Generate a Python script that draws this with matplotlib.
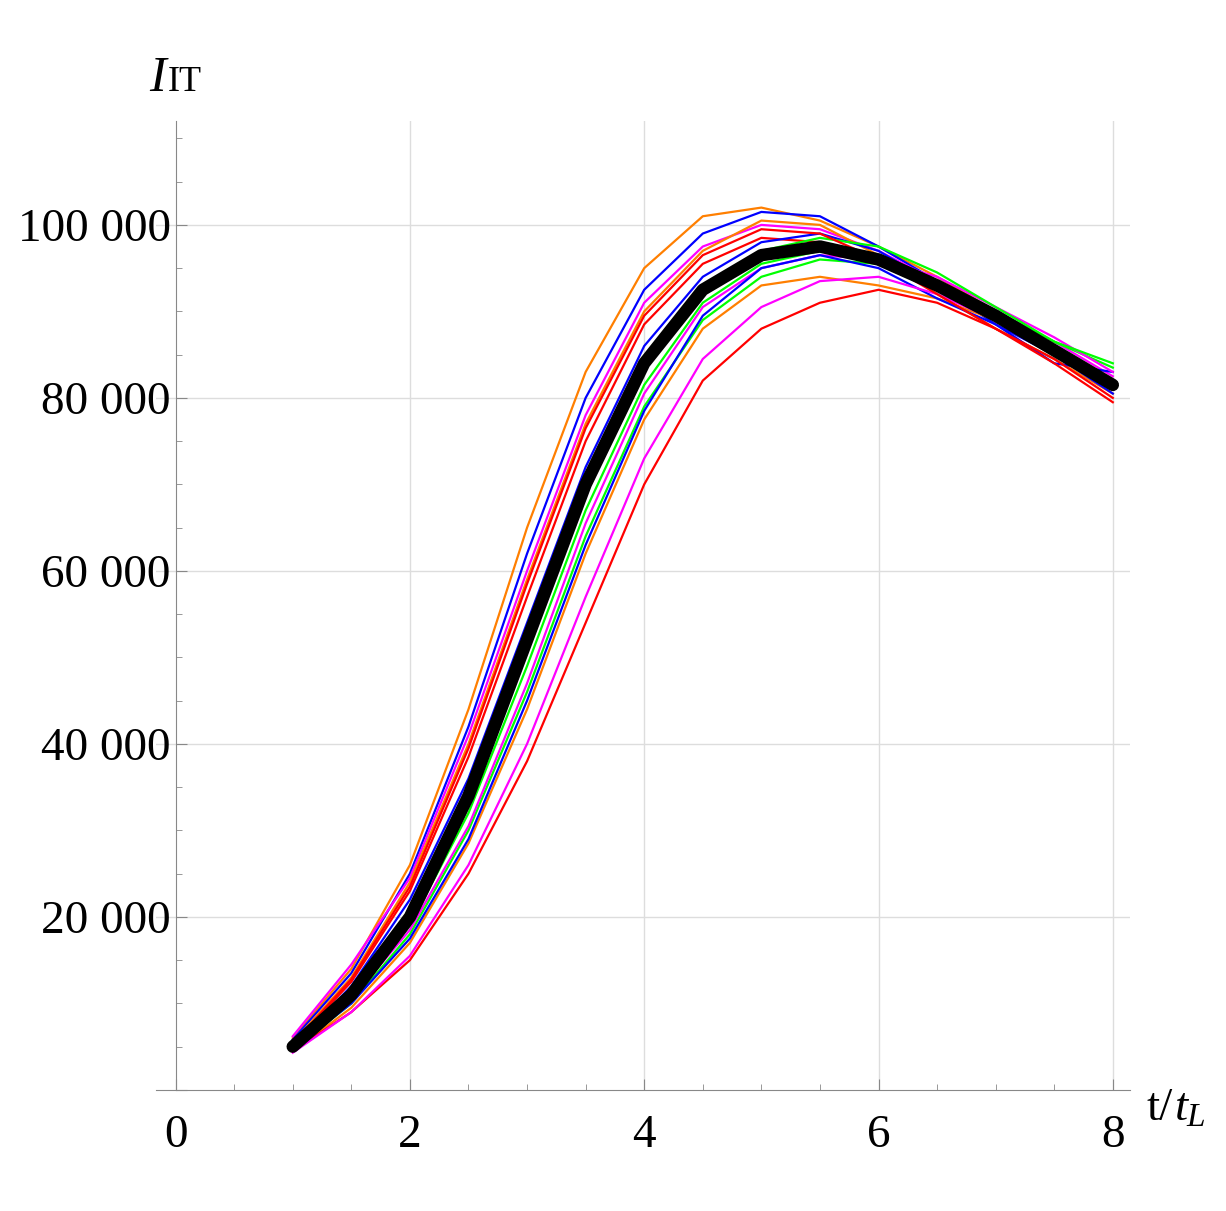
import matplotlib
matplotlib.use("Agg")
import matplotlib.pyplot as plt
from matplotlib.ticker import MultipleLocator, FuncFormatter

t = [1, 1.5, 2, 2.5, 3, 3.5, 4, 4.5, 5, 5.5, 6, 6.5, 7, 7.5, 8]
mean_curve = [5000, 11000, 20000, 34000, 52000, 70000, 84000, 92500, 96500, 97500, 96000, 93000, 89500, 85500, 81500]

orange1 = [6000, 14000, 26000, 44000, 65000, 83000, 95000, 101000, 102000, 100500, 97500, 94000, 90000, 86000, 82000]
blue1 = [5800, 13500, 25000, 42000, 62000, 80000, 92500, 99000, 101500, 101000, 97500, 93500, 89500, 85000, 81000]
magenta1 = [6200, 14500, 24500, 41000, 60000, 78000, 91000, 97500, 100000, 99500, 97000, 93500, 90000, 86500, 82500]
orange2 = [5500, 13000, 24000, 40000, 59000, 77000, 90000, 97000, 100500, 100000, 96500, 92000, 88000, 84500, 80500]
red1 = [5200, 12500, 23000, 38500, 57000, 75000, 88500, 95500, 98500, 98000, 95500, 92500, 89000, 85500, 81500]
blue2 = [5000, 12000, 22000, 36000, 54000, 72000, 86000, 94000, 98000, 99000, 97000, 93000, 88500, 84000, 83000]
green1 = [4800, 10500, 19000, 32000, 49000, 67000, 81500, 91000, 95500, 97000, 96500, 93500, 90000, 86500, 83500]
green2 = [4600, 10000, 18000, 30000, 46000, 64000, 79000, 89000, 94000, 96000, 95500, 93000, 89500, 86000, 82000]
magenta2 = [4500, 10500, 18500, 30500, 47000, 65500, 80500, 90500, 95000, 96500, 96000, 94000, 90500, 87000, 83000]
orange3 = [4400, 9500, 17000, 28500, 44000, 62000, 77500, 88000, 93000, 94000, 93000, 91500, 89000, 85500, 81000]
blue3 = [4700, 10000, 17500, 29000, 45000, 63000, 78500, 89500, 95000, 96500, 95000, 91500, 88500, 85000, 80500]
red2 = [4500, 9000, 15000, 25000, 38000, 54000, 70000, 82000, 88000, 91000, 92500, 91000, 88000, 84500, 80000]
magenta3 = [4300, 9000, 15500, 26000, 40000, 57000, 73000, 84500, 90500, 93500, 94000, 92000, 89000, 85500, 81500]
green3 = [4900, 11000, 20000, 33500, 51000, 69500, 83500, 92500, 97000, 98500, 97500, 94500, 90500, 86500, 84000]
red3 = [5300, 12800, 23500, 39500, 58500, 76500, 89500, 96500, 99500, 99000, 96000, 92000, 88000, 84000, 79500]

traces = [(orange1, "#ff7f00"), (blue1, "#0000ff"), (magenta1, "#ff00ff"), (orange2, "#ff7f00"),
          (red1, "#ff0000"), (blue2, "#0000ff"), (green1, "#00ff00"), (green2, "#00ff00"),
          (magenta2, "#ff00ff"), (orange3, "#ff7f00"), (blue3, "#0000ff"), (red2, "#ff0000"),
          (magenta3, "#ff00ff"), (green3, "#00ff00"), (red3, "#ff0000")]

plt.rcParams['font.family'] = ['Liberation Serif', 'DejaVu Serif']
fig = plt.figure(figsize=(12.26, 12.11), dpi=100)
ax = fig.add_axes([0.127, 0.1, 0.795, 0.8])
ax.set_xlim(-0.17, 8.15)
ax.set_ylim(0, 112000)

for x in [2, 4, 6, 8]:
    ax.axvline(x, color="#dddddd", lw=1, zorder=0)
for y in [20000, 40000, 60000, 80000, 100000]:
    ax.axhline(y, color="#dddddd", lw=1, zorder=0)

for vals, c in traces:
    ax.plot(t, vals, color=c, lw=1.6)
ax.plot(t, mean_curve, color="black", lw=9, solid_capstyle="round")

for s in ["top", "right"]:
    ax.spines[s].set_visible(False)
ax.spines["left"].set_position(("data", 0))
ax.spines["bottom"].set_position(("data", 0))
for s in ["left", "bottom"]:
    ax.spines[s].set_color("#888888")
ax.xaxis.set_major_locator(MultipleLocator(2))
ax.xaxis.set_minor_locator(MultipleLocator(0.5))
ax.yaxis.set_major_locator(MultipleLocator(20000))
ax.yaxis.set_minor_locator(MultipleLocator(5000))
ax.yaxis.set_major_formatter(FuncFormatter(lambda v, p: f"{int(v):,}".replace(",", " ") if v > 0 else ""))
ax.tick_params(which="both", direction="in", color="#888888", labelsize=34)
ax.tick_params(which="major", length=8)
ax.tick_params(which="minor", length=4)
ax.tick_params(axis="x", pad=18)
ax.text(0.27, 1.06, r"$I$", transform=ax.transAxes, fontsize=36, style="italic") if False else None
fig.text(0.122, 0.925, "I", fontsize=36, style="italic")
fig.text(0.137, 0.925, "IT", fontsize=26)
fig.text(0.935, 0.075, "t/", fontsize=34)
fig.text(0.958, 0.075, "t", fontsize=34, style="italic")
fig.text(0.968, 0.07, "L", fontsize=24, style="italic")
fig.savefig("out.png")
